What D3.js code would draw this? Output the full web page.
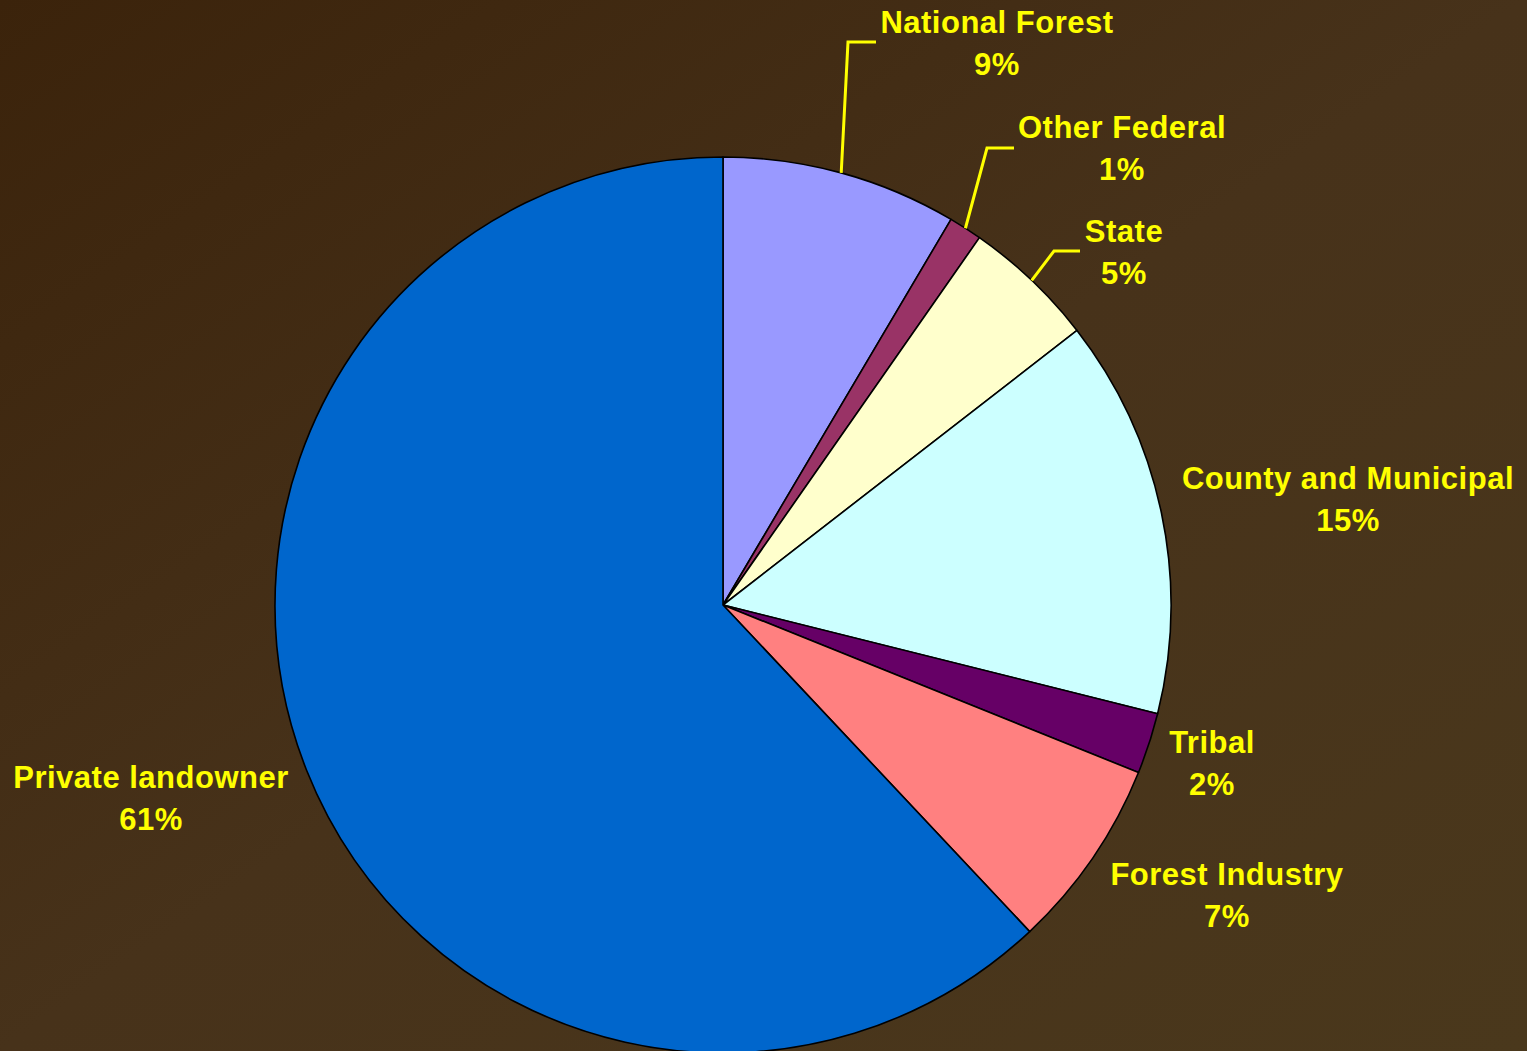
<!DOCTYPE html>
<html>
<head>
<meta charset="utf-8">
<script src="https://cdn.jsdelivr.net/npm/d3@7/dist/d3.min.js"></script>
<style>
html,body{margin:0;padding:0;overflow:hidden;}
svg{display:block;}
</style>
</head>
<body>
<script>
// Data
const categories = ["National Forest","Other Federal","State","County and Municipal","Tribal","Forest Industry","Private landowner"];
const values = [8.5, 1.2, 4.8, 14.4, 2.2, 6.9, 62.0];
const pctLabels = ["9%","1%","5%","15%","2%","7%","61%"];
const colors = ["#9999ff","#993366","#ffffcc","#ccffff","#660066","#ff8080","#0066cc"];

// Layout (label anchors and leader elbows)
const labelPos = [
  {x:997, y:33, leader:[848,42,876,42]},
  {x:1122, y:138, leader:[987,148,1014,148]},
  {x:1124, y:242, leader:[1054,251,1080,251]},
  {x:1348, y:489},
  {x:1212, y:753},
  {x:1227, y:885},
  {x:151, y:788}
];

const W = 1527, H = 1051;
const cx = 723, cy = 605, R = 448;

const svg = d3.select("body").append("svg").attr("width", W).attr("height", H);
const defs = svg.append("defs");
const grad = defs.append("linearGradient").attr("id","bg").attr("x1","0").attr("y1","0").attr("x2","1").attr("y2","1");
grad.append("stop").attr("offset","0").attr("stop-color","#3b230b");
grad.append("stop").attr("offset","0.5").attr("stop-color","#47321a");
grad.append("stop").attr("offset","1").attr("stop-color","#4a381c");
svg.append("rect").attr("width",W).attr("height",H).attr("fill","url(#bg)");

const data = categories.map((c,i)=>({name:c, value:values[i], pct:pctLabels[i], color:colors[i], i}));
const pie = d3.pie().value(d=>d.value).sort(null);
const arcs = pie(data);
const arc = d3.arc().innerRadius(0).outerRadius(R);

const g = svg.append("g").attr("transform",`translate(${cx},${cy})`);
g.selectAll("path").data(arcs).join("path")
  .attr("d", arc)
  .attr("fill", d=>d.data.color)
  .attr("stroke","#000")
  .attr("stroke-width",1.6)
  .attr("stroke-linejoin","round");

// Leader lines
arcs.forEach((a,i)=>{
  const lp = labelPos[i];
  if(!lp.leader) return;
  const mid = (a.startAngle + a.endAngle)/2;
  const sx = cx + R*Math.sin(mid), sy = cy - R*Math.cos(mid);
  svg.append("polyline")
    .attr("points", `${sx},${sy} ${lp.leader[0]},${lp.leader[1]} ${lp.leader[2]},${lp.leader[3]}`)
    .attr("fill","none").attr("stroke","#ffff00").attr("stroke-width",3);
});

// Labels
const lab = svg.append("g")
  .attr("font-family","'Liberation Sans', Arial, sans-serif")
  .attr("font-weight","bold")
  .attr("font-size",31)
  .attr("letter-spacing","0.5px")
  .attr("fill","#ffff00")
  .attr("text-anchor","middle");
data.forEach((d,i)=>{
  const lp = labelPos[i];
  const t = lab.append("text").attr("x",lp.x).attr("y",lp.y);
  t.append("tspan").attr("x",lp.x).text(d.name);
  t.append("tspan").attr("x",lp.x).attr("dy",42).text(d.pct);
});
</script>
</body>
</html>
